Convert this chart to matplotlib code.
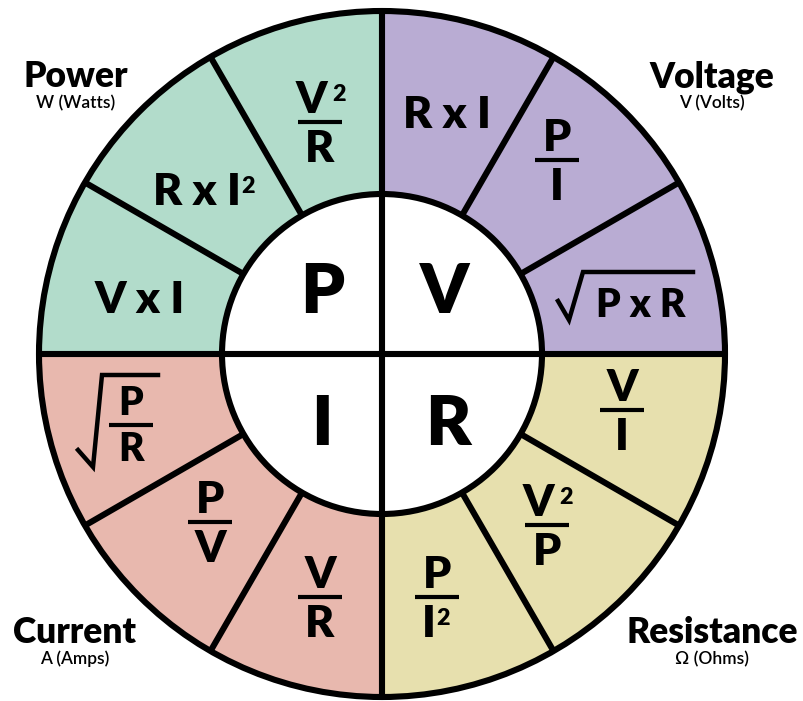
import matplotlib
matplotlib.use("Agg")
import matplotlib.pyplot as plt
from matplotlib.patches import Wedge, Circle
from matplotlib import font_manager as fm
from matplotlib.textpath import TextPath
import numpy as np

# ---- content ----
quantities = ["Voltage", "Power", "Current", "Resistance"]
units = ["V (Volts)", "W (Watts)", "A (Amps)", "\u03a9 (Ohms)"]
symbols = ["V", "P", "I", "R"]
quad_colors = ["#b9acd3", "#b2dccb", "#e8b8ae", "#e7e0ae"]
# quadrant visual angle ranges (deg, counter-clockwise from east)
quad_angles = [(0, 90), (90, 180), (180, 270), (270, 360)]

# formulas: (kind, numerator/text, denominator); "^2" marks a squared term
formulas = [
    ("text", "R x I", None),
    ("frac", "V^2", "R"),
    ("text", "R x I^2", None),
    ("text", "V x I", None),
    ("frac", "P", "I"),
    ("sqrt", "P x R", None),
    ("frac", "V", "I"),
    ("frac", "V^2", "P"),
    ("frac", "P", "I^2"),
    ("sqrtfrac", "P", "R"),
    ("frac", "P", "V"),
    ("frac", "V", "R"),
]

# ---- fonts ----
def find_font(name, weight):
    cands = [f for f in fm.fontManager.ttflist
             if f.name == name and f.weight == weight and f.style == "normal"]
    if not cands:
        return None
    cands.sort(key=lambda f: (0 if "Black" in f.fname or "Heavy" in f.fname else 1, len(f.fname)))
    return cands[0].fname

black_path = find_font("Lato", 900) or find_font("Inter", 900)
med_path = find_font("Lato", 600) or find_font("Lato", 500) or find_font("Lato", 400)

def fp_black(size):
    if black_path:
        return fm.FontProperties(fname=black_path, size=size)
    return fm.FontProperties(family="DejaVu Sans", weight="bold", size=size)

def fp_med(size):
    if med_path:
        return fm.FontProperties(fname=med_path, size=size)
    return fm.FontProperties(family="DejaVu Sans", size=size)

PX = 100 / 72.0

def text_width(s, fp):
    if not s:
        return 0.0
    tp = TextPath((0, 0), s, prop=fp)
    ext = tp.get_extents()
    return ext.width * PX

# ---- layout (pixel coords) ----
CX, CY = 382, 354
R_OUT, R_IN = 343, 160
LW = 4.4  # pt (~6px)

fig = plt.figure(figsize=(8.04, 7.01), dpi=100)
ax = fig.add_axes([0, 0, 1, 1])
ax.set_xlim(0, 804)
ax.set_ylim(701, 0)
ax.axis("off")

# quadrants
for (a1, a2), col in zip(quad_angles, quad_colors):
    ax.add_patch(Wedge((CX, CY), R_OUT, -a2, -a1, facecolor=col, edgecolor="none", zorder=1))
ax.add_patch(Circle((CX, CY), R_OUT, facecolor="none", edgecolor="black", lw=LW, zorder=3))
ax.add_patch(Circle((CX, CY), R_IN, facecolor="white", edgecolor="black", lw=LW, zorder=2))

# radial dividers
for a in [30, 60, 120, 150, 210, 240, 300, 330]:
    t = np.deg2rad(a)
    ax.plot([CX + R_IN * np.cos(t), CX + R_OUT * np.cos(t)],
            [CY - R_IN * np.sin(t), CY - R_OUT * np.sin(t)],
            color="black", lw=LW, solid_capstyle="butt", zorder=2)
# cross
ax.plot([CX, CX], [CY - R_OUT, CY + R_OUT], color="black", lw=LW, solid_capstyle="butt", zorder=2)
ax.plot([CX - R_OUT, CX + R_OUT], [CY, CY], color="black", lw=LW, solid_capstyle="butt", zorder=2)

# center letters (x center, baseline)
sym_pos = [(445, 313), (322, 313), (322, 445), (448, 445)]
for s, (x, y) in zip(symbols, sym_pos):
    ax.text(x, y, s, fontproperties=fp_black(50), ha="center", va="baseline", zorder=4)

# titles
title_pos = [(712, 87), (76, 87), (75, 643), (712, 643)]
for q, u, (x, y) in zip(quantities, units, title_pos):
    ax.text(x, y, q, fontproperties=fp_black(25.5), ha="center", va="baseline")
    ax.text(x, y + 21, u, fontproperties=fp_med(12.5), ha="center", va="baseline")

FS = 32
CAP = 31
GAP = 9

def draw_label(x, baseline, s, fs=FS, cap=CAP):
    """Centered label; '^2' rendered as a larger raised 2."""
    sup = s.endswith("^2")
    main = s[:-2] if sup else s
    fp = fp_black(fs)
    if not sup:
        ax.text(x, baseline, main, fontproperties=fp, ha="center", va="baseline", zorder=4)
        return
    ssize = fs * 0.52
    sfp = fp_black(ssize)
    wm = text_width(main, fp)
    ws = text_width("2", sfp)
    gap = 5
    total = wm + gap + ws
    left = x - total / 2
    ax.text(left + wm / 2, baseline, main, fontproperties=fp, ha="center", va="baseline", zorder=4)
    ax.text(left + wm + gap + ws / 2, baseline - cap + ssize + 2, "2", fontproperties=sfp,
            ha="center", va="baseline", zorder=4)

def frac(x, ybar, num, den, width=44, fs=FS, cap=CAP, gap=GAP):
    draw_label(x, ybar - gap, num, fs, cap)
    draw_label(x, ybar + gap + cap, den, fs, cap)
    ax.plot([x - width / 2, x + width / 2], [ybar, ybar], color="black", lw=3.0,
            solid_capstyle="butt", zorder=4)

# positions for each formula
fpos = [
    (447, 128),   # R x I (center, baseline)
    (320, 122),   # V2/R (center, bar)
    (205, 205),   # R x I2
    (140, 313),   # V x I
    (557, 160),   # P/I
    (641, 317),   # sqrt P x R
    (622, 410),   # V/I
    (547, 525),   # V2/P
    (437, 597),   # P/I2
    (131, 425),   # sqrt P/R
    (210, 522),   # P/V
    (320, 597),   # V/R
]

for (kind, a, b), (x, y) in zip(formulas, fpos):
    if kind == "text":
        draw_label(x, y, a)
    elif kind == "frac":
        frac(x, y, a, b)
    elif kind == "sqrt":
        draw_label(x, y, a, fs=28, cap=27)
        ax.plot([x - 83, x - 72, x - 58, x + 52], [y - 16, y + 3, y - 45, y - 45],
                color="black", lw=3.2, solid_joinstyle="miter", zorder=4)
    elif kind == "sqrtfrac":
        frac(x, y, a, b, fs=28, cap=26, gap=10)
        ax.plot([x - 53, x - 38, x - 29, x + 27], [y + 25, y + 42, y - 50, y - 50],
                color="black", lw=3.2, solid_joinstyle="miter", zorder=4)

fig.savefig("out.png", dpi=100, facecolor="white")
